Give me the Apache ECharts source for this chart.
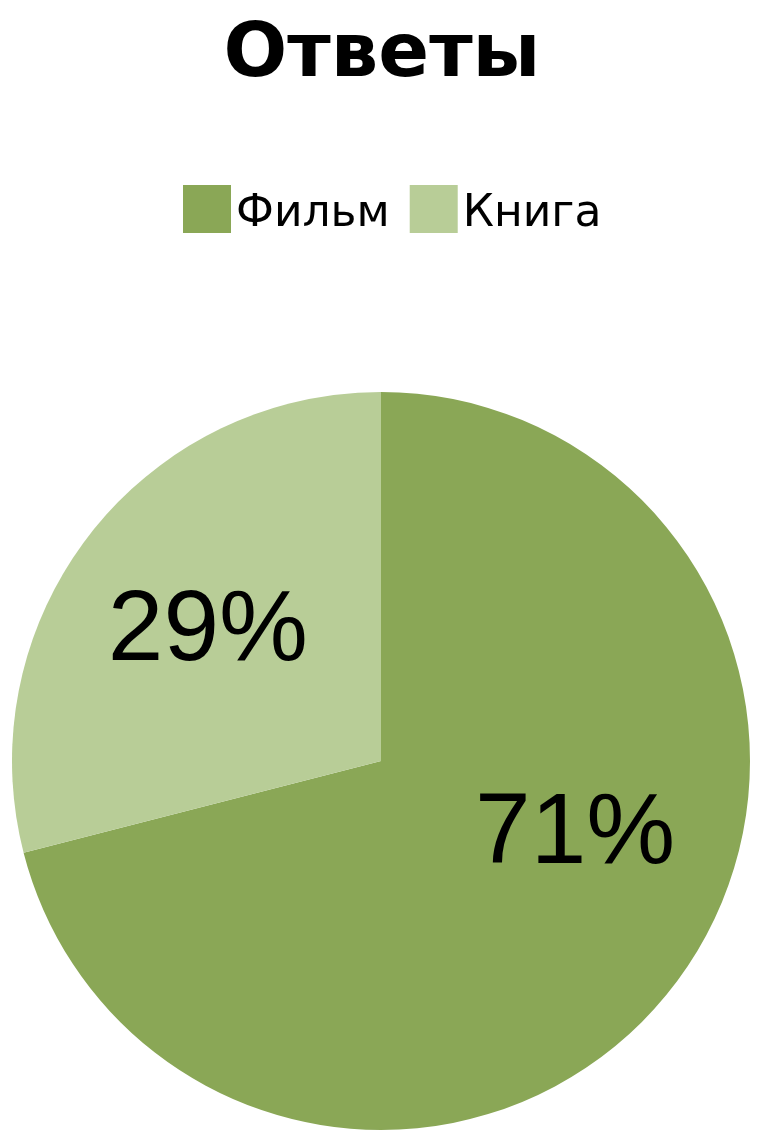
<!DOCTYPE html>
<html>
<head>
<meta charset="utf-8">
<script src="https://cdn.jsdelivr.net/npm/echarts@6/dist/echarts.min.js"></script>
<style>
html,body{margin:0;padding:0;background:#fff;}
#chart{width:764px;height:1146px;}
</style>
</head>
<body>
<div id="chart"></div>
<script>
var titleText = 'Ответы';
var categories = ['Фильм', 'Книга'];
var values = [71, 29];
var colors = ['#8aa756', '#b8cd97'];
var labelOffsets = [[46, -40], [-25, -14]];

var chart = echarts.init(document.getElementById('chart'));
chart.setOption({
  backgroundColor: '#ffffff',
  animation: false,
  title: {
    text: titleText,
    left: 'center',
    top: 14,
    textStyle: {
      fontFamily: 'DejaVu Sans, sans-serif',
      fontWeight: 'bold',
      fontSize: 75,
      color: '#000'
    }
  },
  legend: {
    data: categories,
    left: 183,
    top: 180,
    padding: [5, 0],
    itemWidth: 48,
    itemHeight: 48,
    itemGap: 20,
    icon: 'rect',
    formatter: function (name) { return '{t|' + name + '}'; },
    textStyle: {
      fontFamily: 'DejaVu Sans, sans-serif',
      fontSize: 44,
      color: '#000',
      rich: {
        t: {
          fontFamily: 'DejaVu Sans, sans-serif',
          fontSize: 44,
          color: '#000',
          padding: [12, 0, 0, 0]
        }
      }
    }
  },
  series: [{
    type: 'pie',
    center: [381, 761],
    radius: [0, 369],
    startAngle: 90,
    clockwise: true,
    silent: true,
    label: {
      show: true,
      position: 'inside',
      formatter: '{d}%',
      fontFamily: 'Liberation Sans, Arial, sans-serif',
      fontSize: 100,
      color: '#000'
    },
    labelLine: {show: false},
    itemStyle: {borderWidth: 0},
    data: categories.map(function (c, i) {
      return {
        name: c,
        value: values[i],
        itemStyle: {color: colors[i]},
        label: {offset: labelOffsets[i]}
      };
    })
  }]
});
</script>
</body>
</html>
